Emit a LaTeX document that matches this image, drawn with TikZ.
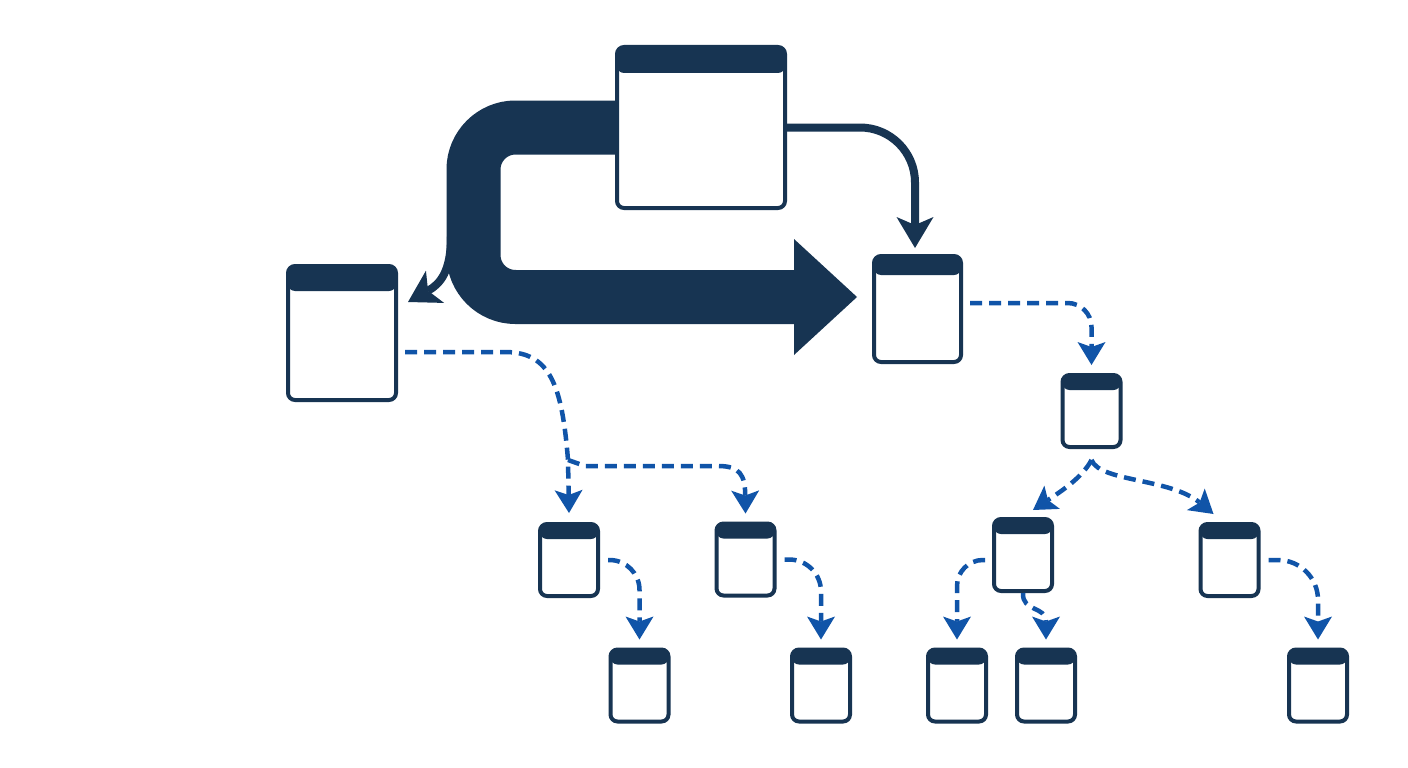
\documentclass[tikz,border=0pt]{standalone}
\usetikzlibrary{arrows.meta}
\definecolor{navy}{RGB}{23,52,82}
\definecolor{flowblue}{RGB}{16,84,168}

\begin{document}
\begin{tikzpicture}[x=1pt,y=-1pt,
  win/.style n args={3}{draw=navy,line width=4pt,fill=white,rounded corners=7pt,
    minimum width=#1,minimum height=#2,inner sep=0pt,
    path picture={\fill[navy] (path picture bounding box.north west)
      rectangle ([yshift=-#3]path picture bounding box.north east);}},
  leaf/.style={win={58pt}{72pt}{15pt}},
  band/.style={draw=navy,line width=54pt,rounded corners=42pt,
    -{Triangle[length=63pt,width=116pt,line width=0pt]}},
  link/.style={draw=navy,line width=8pt,
    -{Stealth[length=31pt,width=37pt,inset=8pt,line width=0pt]}},
  dlink/.style={draw=flowblue,line width=4.5pt,dash pattern=on 12pt off 7pt,
    -{Stealth[length=23pt,width=28pt,inset=5pt,line width=0pt]}}]
  \fill[white] (0,0) rectangle (1408,768);
  \useasboundingbox (0,0) rectangle (1408,768);

  % windows
  \node[win={168pt}{161pt}{26pt}] (T) at (701,127.5) {};
  \node[win={108pt}{134pt}{25pt}] (L) at (342,333) {};
  \node[win={87pt}{106pt}{19pt}] (R) at (917.5,309) {};
  \node[leaf] (M) at (1091.5,411) {};
  \node[leaf] (B1) at (569,560) {};
  \node[leaf] (B2) at (745.5,559.5) {};
  \node[leaf] (B3) at (639.5,685.5) {};
  \node[leaf] (B4) at (821,685.5) {};
  \node[leaf] (C1) at (1023,555) {};
  \node[leaf] (C2) at (1229.5,560) {};
  \node[leaf] (D1) at (957,685.5) {};
  \node[leaf] (D2) at (1046,685.5) {};
  \node[leaf] (D3) at (1318,685.5) {};

  % big loop
  \coordinate (bigtip) at ([xshift=-15pt,yshift=12pt]R.west);
  \coordinate (split) at (451,236);
  \coordinate (ltip) at ([xshift=10pt,yshift=-38pt]L.north east);
  \draw[band] (T.west) -- ++(-141.5,0) |- (bigtip);
  \draw[link] (split) .. controls (451,272) and (440,284) .. (ltip);
  \draw[link,rounded corners=55pt] (T.east) -| ([xshift=-2.5pt,yshift=6pt]R.north);

  % dashed tree
  \draw[dlink,rounded corners=24pt] ([xshift=7pt,yshift=6pt]R.east) -| ([yshift=8pt]M.north);
  \coordinate (mfork) at ([yshift=-11pt]M.south);
  \draw[dlink] (mfork) .. controls (1082,478) and (1060,492) .. ([xshift=10pt,yshift=7pt]C1.north);
  \draw[dlink] (mfork) .. controls (1100,482) and (1170,478) .. ([xshift=-16pt,yshift=8pt]C2.north);

  \coordinate (lfork) at (568,460);
  \draw[dlink] ([xshift=7pt,yshift=-19pt]L.east) -- (505,352)
    .. controls (550,352) and (562,385) .. (lfork) -- ([yshift=9pt]B1.north);
  \draw[dlink] (lfork) -- (585,466) -- (718,466)
    .. controls (740,466) and (745,475) .. ([yshift=8pt]B2.north);

  \draw[dlink,rounded corners=30pt] ([xshift=8pt]B1.east) -| ([yshift=8pt]B3.north);
  \draw[dlink,rounded corners=32pt] ([xshift=8pt]B2.east) -| ([yshift=8pt]B4.north);
  \draw[dlink,rounded corners=26pt] ([xshift=-7pt,yshift=-5pt]C1.west) -| ([yshift=8pt]D1.north);
  \draw[dlink] (C1.south) .. controls (1022,612) and (1046,606) .. ([yshift=8pt]D2.north);
  \draw[dlink,rounded corners=40pt] ([xshift=8pt]C2.east) -| ([yshift=8pt]D3.north);
\end{tikzpicture}
\end{document}
